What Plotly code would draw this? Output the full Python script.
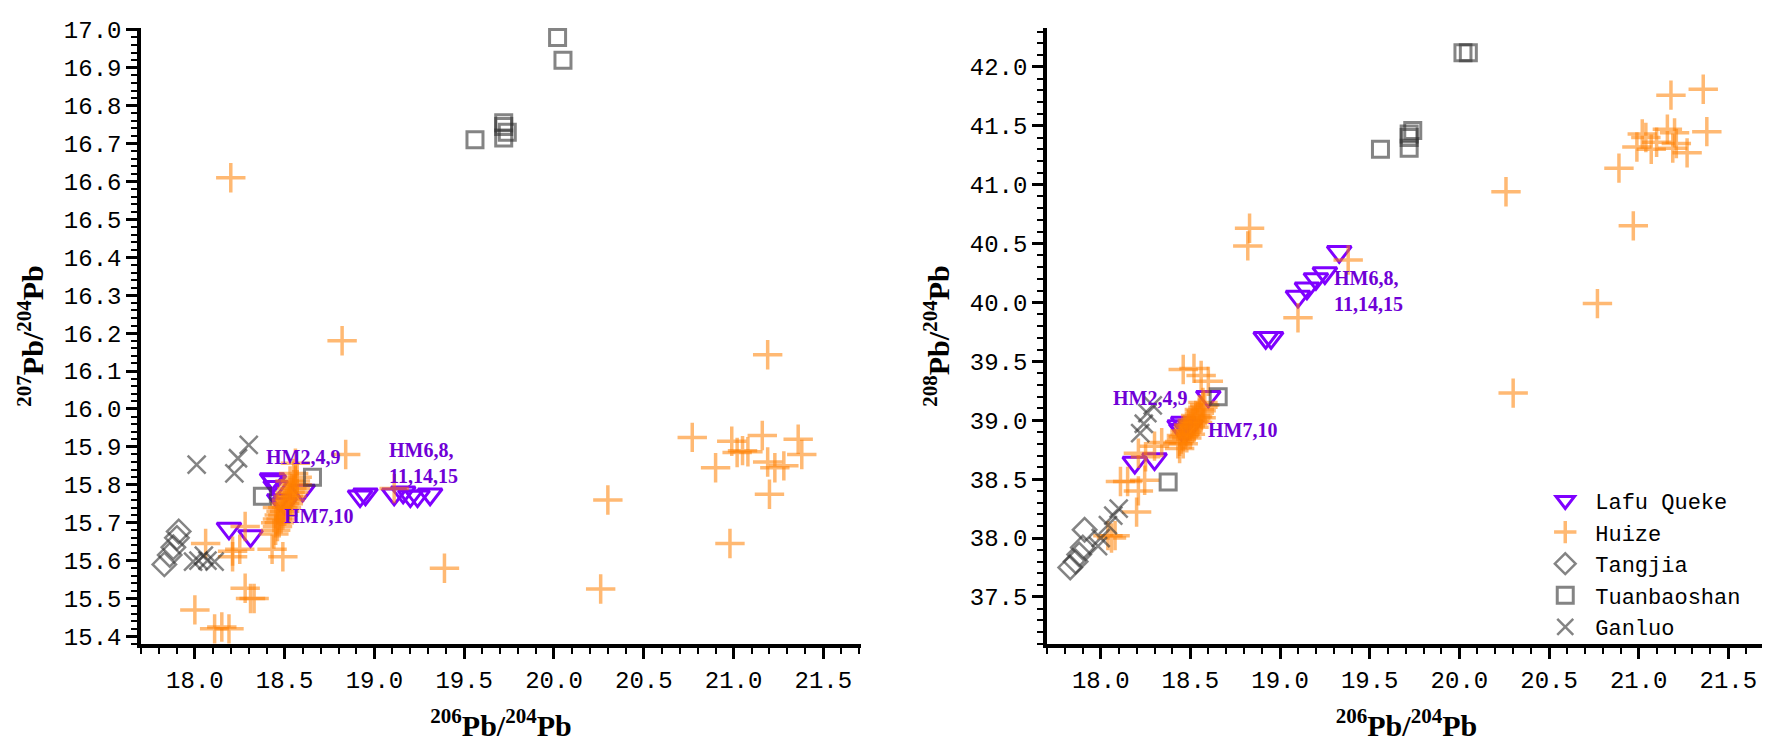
import plotly.graph_objects as go

# ---- data: left panel (207Pb/204Pb vs 206Pb/204Pb) ----
lafu_x_l = [18.19, 18.31, 18.43, 18.44, 18.45, 18.47, 18.50, 18.60, 18.92, 18.95, 19.11, 19.16, 19.20, 19.24, 19.31]
lafu_y_l = [15.685, 15.665, 15.815, 15.81, 15.795, 15.76, 15.75, 15.785, 15.77, 15.775, 15.775, 15.78, 15.77, 15.77, 15.775]

huize_x_l = [18.44, 18.45, 18.45, 18.46, 18.46, 18.47, 18.47, 18.48, 18.48, 18.49, 18.49, 18.50, 18.50, 18.51, 18.51,
             18.52, 18.52, 18.53, 18.53, 18.54, 18.54, 18.55, 18.55, 18.56, 18.56, 18.57, 18.57, 18.55, 18.53, 18.46,
             18.20, 18.82, 18.84, 18.56, 21.19, 20.77, 20.99, 21.16, 21.36, 21.02, 21.08, 21.05, 21.38, 20.90, 21.19,
             21.23, 21.28, 21.20, 20.30, 20.98, 20.26, 19.39, 18.00, 18.11, 18.15, 18.19, 18.28, 18.31, 18.33, 18.21,
             18.21, 18.25, 18.06, 18.28, 18.43, 18.49, 19.11]
huize_y_l = [15.67, 15.68, 15.70, 15.69, 15.71, 15.70, 15.72, 15.71, 15.73, 15.72, 15.74, 15.73, 15.75, 15.74, 15.76,
             15.75, 15.77, 15.76, 15.78, 15.77, 15.79, 15.78, 15.80, 15.79, 15.81, 15.80, 15.82, 15.83, 15.81, 15.74,
             16.61, 16.18, 15.88, 15.857, 16.143, 15.925, 15.915, 15.93, 15.92, 15.885, 15.887, 15.89, 15.88, 15.845, 15.86,
             15.845, 15.85, 15.775, 15.76, 15.645, 15.525, 15.58, 15.47, 15.42, 15.425, 15.42, 15.527, 15.50, 15.50, 15.625,
             15.61, 15.63, 15.645, 15.69, 15.63, 15.61, 15.79]

tang_x_l = [17.83, 17.86, 17.88, 17.90, 17.91]
tang_y_l = [15.59, 15.615, 15.635, 15.66, 15.677]

tuan_x_l = [20.02, 20.05, 19.72, 19.72, 19.74, 19.72, 19.56, 18.655, 18.376]
tuan_y_l = [16.98, 16.92, 16.755, 16.745, 16.73, 16.715, 16.71, 15.82, 15.77]

gan_x_l = [18.01, 18.22, 18.24, 18.30, 17.99, 18.02, 18.05, 18.07, 18.11]
gan_y_l = [15.853, 15.83, 15.87, 15.905, 15.597, 15.60, 15.613, 15.60, 15.597]

# ---- data: right panel (208Pb/204Pb vs 206Pb/204Pb) ----
lafu_x_r = [18.19, 18.30, 18.44, 18.46, 18.45, 18.48, 18.50, 18.60, 18.92, 18.95, 19.10, 19.15, 19.20, 19.25, 19.33]
lafu_y_r = [38.64, 38.67, 38.95, 38.98, 38.92, 38.92, 38.95, 39.20, 39.70, 39.70, 40.05, 40.12, 40.20, 40.25, 40.43]

huize_x_r = [18.43, 18.44, 18.45, 18.45, 18.46, 18.47, 18.47, 18.48, 18.49, 18.49, 18.50, 18.51, 18.51, 18.52, 18.53,
             18.53, 18.54, 18.55, 18.55, 18.56, 18.57, 18.58, 18.44, 18.46, 18.48, 18.52, 18.56, 18.57, 18.50, 18.54,
             21.18, 21.36, 21.38, 21.02, 21.04, 20.99, 21.07, 21.16, 21.20, 21.21, 21.19, 21.27, 21.10, 20.89, 20.26,
             20.97, 20.77, 20.30, 18.83, 18.82, 19.38, 19.10, 18.46, 18.52, 18.56, 18.60, 18.21, 18.25, 18.30, 18.34,
             18.11, 18.15, 18.245, 18.21, 18.20, 18.08, 18.04, 18.06]
huize_y_r = [38.80, 38.82, 38.84, 38.87, 38.86, 38.88, 38.91, 38.90, 38.93, 38.96, 38.95, 38.97, 39.00, 38.99, 39.01,
             39.04, 39.03, 39.06, 39.09, 39.08, 39.11, 39.13, 38.76, 38.80, 38.85, 38.94, 39.02, 39.15, 38.88, 38.98,
             41.76, 41.81, 41.45, 41.43, 41.40, 41.32, 41.30, 41.47, 41.44, 41.35, 41.31, 41.27, 41.36, 41.14, 40.94,
             40.65, 39.99, 39.23, 40.63, 40.48, 40.36, 39.87, 39.43, 39.44, 39.38, 39.33, 38.72, 38.69, 38.78, 38.81,
             38.48, 38.48, 38.49, 38.40, 38.22, 38.02, 38.02, 38.00]

tang_x_r = [17.83, 17.86, 17.88, 17.90, 17.91]
tang_y_r = [37.75, 37.80, 37.86, 37.92, 38.07]

tuan_x_r = [20.02, 20.05, 19.72, 19.72, 19.74, 19.72, 19.56, 18.655, 18.376]
tuan_y_r = [42.12, 42.12, 41.43, 41.40, 41.46, 41.31, 41.30, 39.20, 38.475]

gan_x_r = [18.22, 18.24, 18.26, 18.29, 17.985, 18.00, 18.04, 18.07, 18.10]
gan_y_r = [38.89, 38.97, 39.06, 39.125, 37.93, 38.00, 38.11, 38.19, 38.25]

PURPLE = '#7F00FF'
ORANGE = 'rgba(255,128,0,0.55)'
GRAY = 'rgba(50,50,50,0.6)'
MONO = 'Liberation Mono'
SERIF = 'Liberation Serif'

series = [
    ('Lafu Queke', 'triangle-down-open', PURPLE, 21, 3, lafu_x_l, lafu_y_l, lafu_x_r, lafu_y_r),
    ('Huize', 'cross-thin-open', ORANGE, 21, 3.5, huize_x_l, huize_y_l, huize_x_r, huize_y_r),
    ('Tangjia', 'diamond-open', GRAY, 18, 2.5, tang_x_l, tang_y_l, tang_x_r, tang_y_r),
    ('Tuanbaoshan', 'square-open', GRAY, 16, 3, tuan_x_l, tuan_y_l, tuan_x_r, tuan_y_r),
    ('Ganluo', 'x-thin-open', GRAY, 18, 2.5, gan_x_l, gan_y_l, gan_x_r, gan_y_r),
]

fig = go.Figure()

for name, sym, col, size, lw, xl, yl, xr, yr in series:
    mk = dict(symbol=sym, size=size, color=col, line=dict(color=col, width=lw))
    fig.add_trace(go.Scatter(x=xl, y=yl, mode='markers', name=name, marker=mk,
                             xaxis='x', yaxis='y', showlegend=False))
    fig.add_trace(go.Scatter(x=xr, y=yr, mode='markers', name=name, marker=mk,
                             xaxis='x2', yaxis='y2', showlegend=True))

tick_font = dict(family=MONO, size=24, color='black')
title_font = dict(family=SERIF, size=30, color='black')
minor = dict(ticks='outside', ticklen=6, tickwidth=2, tickcolor='black')

axis_common = dict(showline=True, linewidth=3.5, linecolor='black', ticks='outside',
                   ticklen=11, tickwidth=3, tickcolor='black', showgrid=False,
                   zeroline=False, tickfont=tick_font, tickformat='.1f')

fig.update_layout(
    width=1770, height=740,
    margin=dict(l=133, r=12, t=10, b=102),
    paper_bgcolor='white', plot_bgcolor='white',
    xaxis=dict(domain=[0, 0.4431], range=[17.7, 21.71], dtick=0.5, tick0=18,
               minor=dict(dtick=0.1, **minor),
               title=dict(text='<b><sup>206</sup>Pb/<sup>204</sup>Pb</b>', font=title_font, standoff=22),
               anchor='y', **axis_common),
    yaxis=dict(domain=[0, 1], range=[15.38, 17.005], dtick=0.1, tick0=15.4,
               minor=dict(dtick=0.02, **minor),
               title=dict(text='<b><sup>207</sup>Pb/<sup>204</sup>Pb</b>', font=title_font, standoff=12),
               anchor='x', **axis_common),
    xaxis2=dict(domain=[0.5575, 1.0], range=[17.7, 21.71], dtick=0.5, tick0=18,
                minor=dict(dtick=0.1, **minor),
                title=dict(text='<b><sup>206</sup>Pb/<sup>204</sup>Pb</b>', font=title_font, standoff=22),
                anchor='y2', **axis_common),
    yaxis2=dict(domain=[0, 1], range=[37.1, 42.33], dtick=0.5, tick0=37.5,
                minor=dict(dtick=0.1, **minor),
                title=dict(text='<b><sup>208</sup>Pb/<sup>204</sup>Pb</b>', font=title_font, standoff=12),
                anchor='x2', **axis_common),
    legend=dict(x=0.858, y=-0.006, xanchor='left', yanchor='bottom',
                font=dict(family=MONO, size=22, color='black'),
                itemwidth=50,
                bgcolor='rgba(0,0,0,0)', tracegroupgap=0),
)

ann_font = dict(family=SERIF, size=20, color='#6F00D6')
labels = [
    ('x', 'y', 18.60, 15.872, '<b>HM2,4,9</b>', 'center'),
    ('x', 'y', 18.69, 15.718, '<b>HM7,10</b>', 'center'),
    ('x', 'y', 19.07, 15.858, '<b>HM6,8,<br>11,14,15</b>', 'left'),
    ('x2', 'y2', 18.275, 39.19, '<b>HM2,4,9</b>', 'center'),
    ('x2', 'y2', 18.585, 38.92, '<b>HM7,10</b>', 'left'),
    ('x2', 'y2', 19.29, 40.10, '<b>HM6,8,<br>11,14,15</b>', 'left'),
]
for xr_, yr_, x, y, txt, anc in labels:
    fig.add_annotation(xref=xr_, yref=yr_, x=x, y=y, text=txt, showarrow=False,
                       xanchor=anc, yanchor='middle', align='left', font=ann_font)

fig.write_html("out.html")
